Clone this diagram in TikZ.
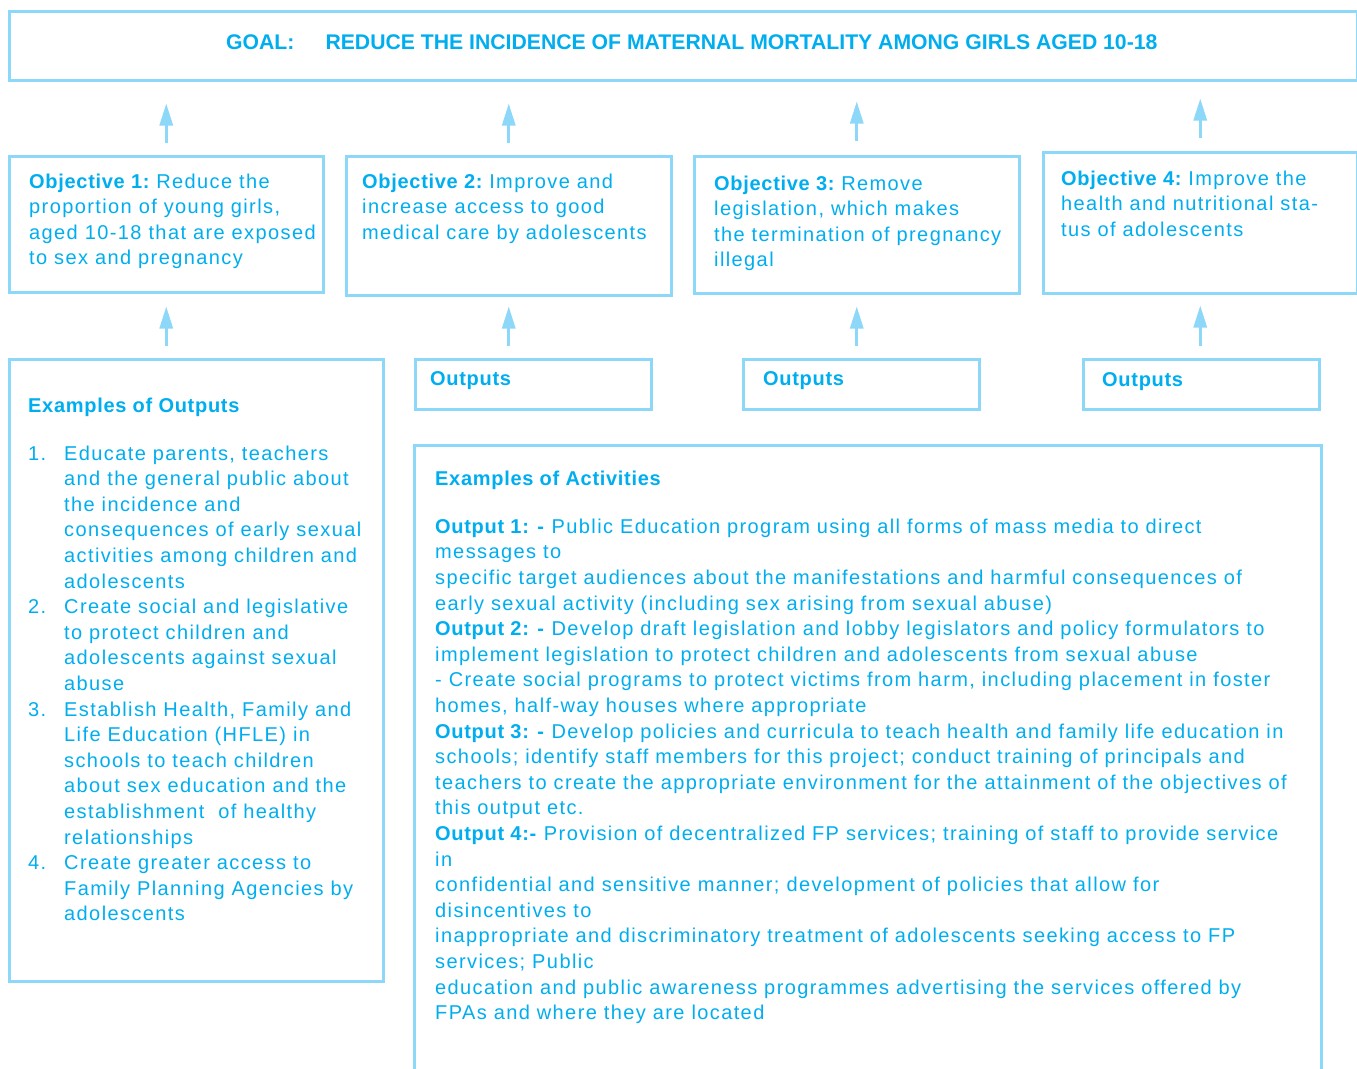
\documentclass[tikz,border=0pt]{standalone}
\usepackage{fontspec}
\setmainfont{Liberation Sans}[LetterSpace=7, BoldFeatures={LetterSpace=3.5}]
\newfontfamily\goalfont{Liberation Sans}
\usetikzlibrary{arrows.meta}
\definecolor{txtblue}{RGB}{0,174,239}
\definecolor{lineblue}{RGB}{141,216,248}
\tikzset{
  frame/.style={draw=lineblue, line width=2.5pt, rectangle, inner sep=0pt, anchor=north west},
  % multi-line texts are placed by the baseline of their last line
  txt/.style={text=txtblue, inner sep=0pt, align=left, anchor=base west,
    font=\fontsize{20}{25.6}\selectfont},
  arr/.style={draw=lineblue, line width=3pt, -{Triangle[length=22pt,width=13pt]}},
}
\newcommand{\num}[1]{\makebox[36pt][l]{#1}}
\newcommand{\lead}[1]{\textbf{#1}\hspace{6pt}}
\begin{document}
\begin{tikzpicture}[x=1pt,y=-1pt]
  \clip (0,0) rectangle (1357,1068);
  \fill[white] (0,0) rectangle (1357,1068);

  % goal
  \node[frame, minimum width=1348pt, minimum height=69pt] (goal) at (8,10) {};
  \node[txt, font=\goalfont\bfseries\fontsize{21.2}{25}\selectfont] (goaltxt) at (226,49)
    {GOAL:\hspace{31pt}REDUCE THE INCIDENCE OF MATERNAL MORTALITY AMONG GIRLS AGED 10-18};

  % objectives
  \node[frame, minimum width=314pt, minimum height=136pt] (obj1) at (8,155) {};
  \node[frame, minimum width=325pt, minimum height=139pt] (obj2) at (345,155) {};
  \node[frame, minimum width=325pt, minimum height=137pt] (obj3) at (693,155) {};
  \node[frame, minimum width=314pt, minimum height=141pt] (obj4) at (1042,151) {};

  \node[txt] (obj1txt) at (29,264.8) {\lead{Objective 1:}Reduce the\\proportion of young girls,\\aged 10-18 that are exposed\\to sex and pregnancy};
  \node[txt] (obj2txt) at (362,239.2) {\lead{Objective 2:}Improve and\\increase access to good\\medical care by adolescents};
  \node[txt] (obj3txt) at (714,266.8) {\lead{Objective 3:}Remove\\legislation, which makes\\the termination of pregnancy\\illegal};
  \node[txt] (obj4txt) at (1061,236.2) {\lead{Objective 4:}Improve the\\health and nutritional sta-\\tus of adolescents};

  % outputs
  \node[frame, minimum width=374pt, minimum height=622pt] (exout) at (8,358) {};
  \node[frame, minimum width=236pt, minimum height=50pt] (out2) at (414,358) {};
  \node[frame, minimum width=236pt, minimum height=50pt] (out3) at (742,358) {};
  \node[frame, minimum width=236pt, minimum height=50pt] (out4) at (1082,358) {};

  \node[txt] (exouttxt) at (28,920.8) {\textbf{Examples of Outputs}\\[22.4pt]
    \num{1.}Educate parents, teachers\\
    \num{}and the general public about\\
    \num{}the incidence and\\
    \num{}consequences of early sexual\\
    \num{}activities among children and\\
    \num{}adolescents\\
    \num{2.}Create social and legislative\\
    \num{}to protect children and\\
    \num{}adolescents against sexual\\
    \num{}abuse\\
    \num{3.}Establish Health, Family and\\
    \num{}Life Education (HFLE) in\\
    \num{}schools to teach children\\
    \num{}about sex education and the\\
    \num{}establishment\ \ of healthy\\
    \num{}relationships\\
    \num{4.}Create greater access to\\
    \num{}Family Planning Agencies by\\
    \num{}adolescents};

  \node[txt] (out2txt) at (430,385) {\textbf{Outputs}};
  \node[txt] (out3txt) at (763,385) {\textbf{Outputs}};
  \node[txt] (out4txt) at (1102,386) {\textbf{Outputs}};

  % activities (box runs past the lower edge)
  \node[frame, minimum width=907pt, minimum height=660pt] (act) at (413,444) {};
  \node[txt] (acttxt) at (435,1019.7) {\textbf{Examples of Activities}\\[22.7pt]
    \textbf{Output 1: -} Public Education program using all forms of mass media to direct\\
    messages to\\
    specific target audiences about the manifestations and harmful consequences of\\
    early sexual activity (including sex arising from sexual abuse)\\
    \textbf{Output 2: -} Develop draft legislation and lobby legislators and policy formulators to\\
    implement legislation to protect children and adolescents from sexual abuse\\
    - Create social programs to protect victims from harm, including placement in foster\\
    homes, half-way houses where appropriate\\
    \textbf{Output 3: -} Develop policies and curricula to teach health and family life education in\\
    schools; identify staff members for this project; conduct training of principals and\\
    teachers to create the appropriate environment for the attainment of the objectives of\\
    this output etc.\\
    \textbf{Output 4:-} Provision of decentralized FP services; training of staff to provide service\\
    in\\
    confidential and sensitive manner; development of policies that allow for\\
    disincentives to\\
    inappropriate and discriminatory treatment of adolescents seeking access to FP\\
    services; Public\\
    education and public awareness programmes advertising the services offered by\\
    FPAs and where they are located};

  % objectives lead up to the goal
  \draw[arr, shorten <=12pt, shorten >=22pt] (obj1.north) -- (obj1.north |- goal.south);
  \draw[arr, shorten <=12pt, shorten >=22pt] (obj2.north) -- (obj2.north |- goal.south);
  \draw[arr, shorten <=14pt, shorten >=20pt] (obj3.north) -- (obj3.north |- goal.south);
  \draw[arr, shorten <=13pt, shorten >=17pt] (obj4.north) -- (obj4.north |- goal.south);

  % outputs lead up to the objectives
  \draw[arr, shorten <=12pt, shorten >=13pt] (obj1.south |- exout.north) -- (obj1.south);
  \draw[arr, shorten <=12pt, shorten >=10pt] (obj2.south |- out2.north) -- (obj2.south);
  \draw[arr, shorten <=12pt, shorten >=12pt] (obj3.south |- out3.north) -- (obj3.south);
  \draw[arr, shorten <=12pt, shorten >=11pt] (obj4.south |- out4.north) -- (obj4.south);
\end{tikzpicture}
\end{document}
